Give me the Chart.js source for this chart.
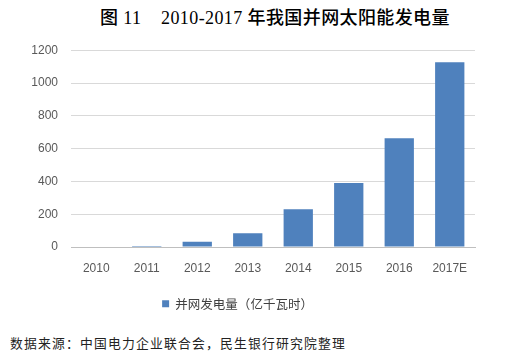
<!DOCTYPE html>
<html>
<head>
<meta charset="utf-8">
<script src="https://cdn.jsdelivr.net/npm/chart.js@4/dist/chart.umd.min.js"></script>
<style>
    html, body { margin: 0; padding: 0; background: #fff; }
    body { width: 515px; height: 352px; position: relative; overflow: hidden; }
    .title {
        position: absolute; top: 3px; left: 100px; white-space: pre;
        font-family: "Liberation Serif", "Noto Sans CJK SC", serif; font-weight: 500;
        font-size: 18px; letter-spacing: 0.4px; color: #000;
    }
    .chart-container { position: absolute; top: 30px; left: 0; width: 515px; height: 291px; }
    .source {
        position: absolute; top: 333px; left: 10px; letter-spacing: 1.2px;
        font-family: "Noto Sans CJK SC", sans-serif; font-size: 12.8px; color: #222;
    }
</style>
</head>
<body>
<div class="title">图 11    2010-2017 年我国并网太阳能发电量</div>
<div class="chart-container"><canvas id="solarChart"></canvas></div>
<div class="source">数据来源：中国电力企业联合会，民生银行研究院整理</div>
<script>
    const years = ["2010", "2011", "2012", "2013", "2014", "2015", "2016", "2017E"];
    const generation = [0, 7, 32, 85, 231, 390, 664, 1127];
    const seriesName = "并网发电量（亿千瓦时）";

    const tickFont = { family: "'Liberation Sans', sans-serif", size: 12 };

    const ctx = document.getElementById("solarChart").getContext("2d");

    new Chart(ctx, {
        type: "bar",
        data: {
            labels: years,
            datasets: [
                {
                    label: seriesName,
                    data: generation,
                    backgroundColor: "#4f81bd",
                    borderWidth: 0,
                    barPercentage: 0.58,
                    categoryPercentage: 1,
                },
            ],
        },
        options: {
            animation: false,
            responsive: true,
            maintainAspectRatio: false,
            layout: { padding: { left: 0, right: 40, top: 0, bottom: 1 } },
            plugins: {
                tooltip: { enabled: false },
                legend: {
                    position: "bottom",
                    labels: {
                        boxWidth: 7,
                        boxHeight: 7,
                        color: "#404040",
                        font: { family: "'Noto Sans CJK SC', sans-serif", size: 12.5 },
                        padding: 8,
                    },
                },
            },
            scales: {
                y: {
                    min: 0,
                    max: 1200,
                    ticks: {
                        stepSize: 200,
                        color: "#595959",
                        font: tickFont,
                        padding: 13,
                        callback: (value) => String(value),
                    },
                    grid: { color: "#d9d9d9", drawTicks: false },
                    border: { display: false },
                    afterFit(scale) { scale.width = 71; },
                },
                x: {
                    ticks: { color: "#595959", font: tickFont, padding: 14, maxRotation: 0 },
                    grid: { display: false, drawTicks: false },
                    border: { color: "#bfbfbf" },
                },
            },
        },
    });
</script>
</body>
</html>
